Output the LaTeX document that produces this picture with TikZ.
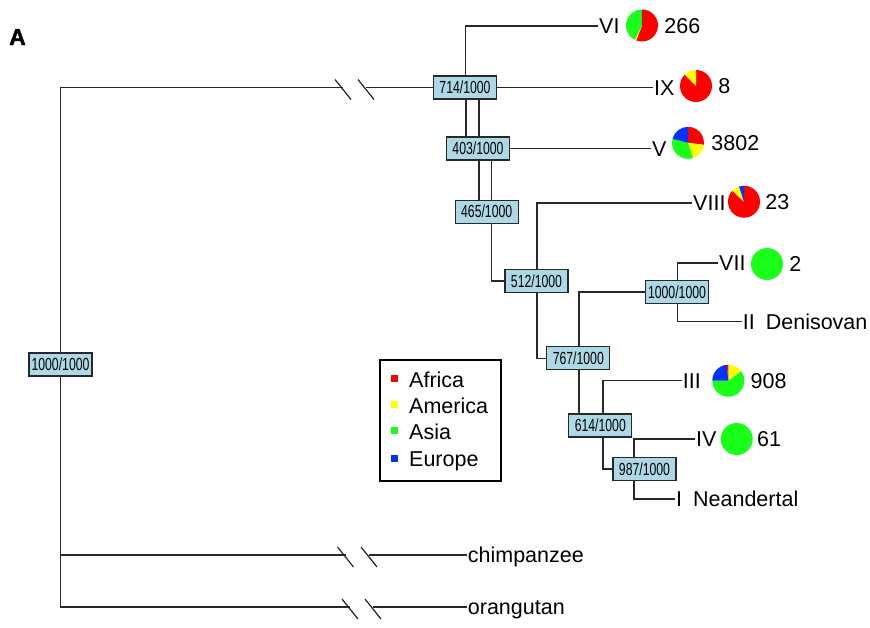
\documentclass[tikz,border=0pt]{standalone}
\usepackage{fontspec}
\setmainfont{Liberation Sans}
\newfontfamily\heavyfont[FakeBold=1.6]{Liberation Sans Bold}
\usetikzlibrary{calc}
\definecolor{pieRed}{RGB}{255,0,0}
\definecolor{pieYellow}{RGB}{255,255,0}
\definecolor{pieGreen}{RGB}{25,255,25}
\definecolor{pieBlue}{RGB}{0,51,255}
\definecolor{boxBlue}{RGB}{173,216,230}
\definecolor{lineGray}{RGB}{40,40,40}
\newcommand\labfont{\fontsize{21.5}{24}\selectfont}
\newcommand\boxfont{\fontsize{17.5}{20}\selectfont}
\newcommand\headfont{\heavyfont\fontsize{23}{26}\selectfont}
\newcommand\bt[1]{\scalebox{0.7}[1]{#1}}
\newcommand\pieslice[4]{\fill[#4] (#1.center) -- ++(#2:16pt) arc[start angle=#2, end angle=#3, radius=16pt] -- cycle;}
\newcommand\brk[1]{\draw[br] ($(#1)+(-8,8)$) -- ($(#1)+(8,-12)$);}
\begin{document}
\begin{tikzpicture}[x=1pt,y=1pt,
  br/.style={draw=lineGray, line width=1.2pt},
  bs/.style={draw=lineGray, line width=1.2pt, fill=boxBlue, minimum width=63pt, minimum height=23pt, inner sep=0pt, font=\boxfont},
  leaf/.style={anchor=west, inner xsep=1pt, inner ysep=0pt, text height=15.4pt, text depth=0pt, font=\labfont},
  pienode/.style={circle, minimum size=32pt, inner sep=0pt},
  cnt/.style={leaf}]
\useasboundingbox (0,0) rectangle (870,-627);

\node[anchor=base, inner sep=0pt, font=\headfont] (lblA) at (17.5,-45) {A};

% support boxes
\node[bs] (bRoot) at (60.5,-364.5) {\bt{1000/1000}};
\node[bs] (b714) at (465,-87.5) {\bt{714/1000}};
\node[bs] (b403) at (478,-148.5) {\bt{403/1000}};
\node[bs] (b465) at (486.7,-211.7) {\bt{465/1000}};
\node[bs] (b512) at (536.5,-281) {\bt{512/1000}};
\node[bs] (b767) at (578.3,-358.3) {\bt{767/1000}};
\node[bs] (b1000) at (677,-292) {\bt{1000/1000}};
\node[bs] (b614) at (600.3,-425.5) {\bt{614/1000}};
\node[bs] (b987) at (644.5,-469) {\bt{987/1000}};

% leaves
\node[leaf] (lVI) at (598,-26) {VI};
\node[leaf] (lIX) at (653,-87.5) {IX};
\node[leaf] (lV) at (651,-148.5) {V};
\node[leaf] (lVIII) at (692,-203) {VIII};
\node[leaf] (lVII) at (718,-263) {VII};
\node[leaf] (lII) at (741.7,-321.7) {II\hspace{5pt} Denisovan};
\node[leaf] (lIII) at (681.7,-380.7) {III};
\node[leaf] (lIV) at (695,-439) {IV};
\node[leaf] (lI) at (675,-499) {I\hspace{5pt} Neandertal};
\node[leaf] (lChimp) at (466.7,-555) {chimpanzee};
\node[leaf] (lOrang) at (466.7,-607) {orangutan};

% pies
\node[pienode] (pVI) at (642,-25.5) {};
\node[pienode] (pIX) at (696,-86) {};
\node[pienode] (pV) at (688,-142.8) {};
\node[pienode] (pVIII) at (744,-201.7) {};
\node[pienode] (pVII) at (767,-264) {};
\node[pienode] (pIII) at (728.3,-380.7) {};
\node[pienode] (pIV) at (736.7,-439) {};

\pieslice{pVI}{90}{-111.6}{pieRed}
\pieslice{pVI}{-111.6}{-117}{pieYellow}
\pieslice{pVI}{-117}{-268.2}{pieGreen}
\pieslice{pVI}{-268.2}{-270}{pieBlue}

\pieslice{pIX}{90}{-225}{pieRed}
\pieslice{pIX}{-225}{-270}{pieYellow}

\pieslice{pV}{90}{-7.2}{pieRed}
\pieslice{pV}{-7.2}{-72}{pieYellow}
\pieslice{pV}{-72}{-194.4}{pieGreen}
\pieslice{pV}{-194.4}{-270}{pieBlue}

\pieslice{pVIII}{90}{-223.2}{pieRed}
\pieslice{pVIII}{-223.2}{-252}{pieYellow}
\pieslice{pVIII}{-252}{-270}{pieBlue}

\fill[pieGreen] (pVII) circle[radius=16pt];

\pieslice{pIII}{90}{36}{pieYellow}
\pieslice{pIII}{36}{-180}{pieGreen}
\pieslice{pIII}{-180}{-264.6}{pieBlue}
\pieslice{pIII}{-264.6}{-270}{pieRed}

\fill[pieGreen] (pIV) circle[radius=16pt];

% counts
\node[cnt] (cVI) at ([xshift=5pt]pVI.east) {266};
\node[cnt] (cIX) at ([xshift=5pt]pIX.east) {8};
\node[cnt] (cV) at ([xshift=6pt]pV.east) {3802};
\node[cnt] (cVIII) at ([xshift=4pt]pVIII.east) {23};
\node[cnt] (cVII) at ([xshift=5pt]pVII.east) {2};
\node[cnt] (cIII) at ([xshift=5pt]pIII.east) {908};
\node[cnt] (cIV) at ([xshift=3pt]pIV.east) {61};

% break points
\coordinate (k1L) at (343,-87.5);
\coordinate (k1R) at (366,-87.5);
\coordinate (k2L) at (345.5,-555);
\coordinate (k2R) at (369,-555);
\coordinate (k3L) at (350,-607);
\coordinate (k3R) at (373,-607);

% root edges
\draw[br] (bRoot.north) |- (k1L);
\draw[br] (k1R) -- (b714.west);
\brk{k1L}\brk{k1R}
\draw[br] (bRoot.south) |- (k2L);
\draw[br] (k2R) -- (lChimp.west);
\brk{k2L}\brk{k2R}
\draw[br] (bRoot.south) |- (k3L);
\draw[br] (k3R) -- (lOrang.west);
\brk{k3L}\brk{k3R}

% upper clade
\draw[br] ([xshift=0.7pt]b714.north) |- (lVI.west);
\draw[br] (b714.east) -- (lIX.west);
\draw[br] ([xshift=1pt]b714.south) -- ([xshift=1pt]b714.south |- b403.north);
\draw[br] ([xshift=14pt]b714.south) -- ([xshift=14pt]b714.south |- b403.north);
\draw[br] (b403.east) -- (lV.west);
\draw[br] ([xshift=1pt]b403.south) -- ([xshift=1pt]b403.south |- b465.north);
\draw[br] ([xshift=13.7pt]b403.south) -- ([xshift=13.7pt]b403.south |- b465.north);
\draw[br] ([xshift=5pt]b465.south) |- (b512.west);
\draw[br] ([xshift=0.5pt]b512.north) |- (lVIII.west);
\draw[br] ([xshift=0.5pt]b512.south) |- (b767.west);
\draw[br] ([xshift=0.7pt]b767.north) |- (b1000.west);
\draw[br] ([xshift=0.7pt]b767.south) -- ([xshift=0.7pt]b767.south |- b614.north);
\draw[br] ([xshift=0.7pt]b1000.north) |- (lVII.west);
\draw[br] ([xshift=0.7pt]b1000.south) |- (lII.west);
\draw[br] ([xshift=2.7pt]b614.north) |- (lIII.west);
\draw[br] ([xshift=2.7pt]b614.south) |- (b987.west);
\draw[br] ([xshift=-10.5pt]b987.north) |- (lIV.west);
\draw[br] ([xshift=-10.5pt]b987.south) |- (lI.west);

% legend
\node[draw=black, line width=1.2pt, minimum width=121pt, minimum height=121pt, inner sep=0pt] (legend) at (440.5,-420.5) {};
\fill[pieRed] (391,-375) rectangle (397.7,-381.7);
\fill[pieYellow] (391,-401) rectangle (397.7,-407.7);
\fill[pieGreen] (391,-427.3) rectangle (397.7,-434);
\fill[pieBlue] (391,-455) rectangle (397.7,-461.7);
\node[leaf] (tAfrica) at (408,-379.5) {Africa};
\node[leaf] (tAmerica) at (408,-406) {America};
\node[leaf] (tAsia) at (408,-432) {Asia};
\node[leaf] (tEurope) at (408,-458.5) {Europe};
\end{tikzpicture}
\end{document}
